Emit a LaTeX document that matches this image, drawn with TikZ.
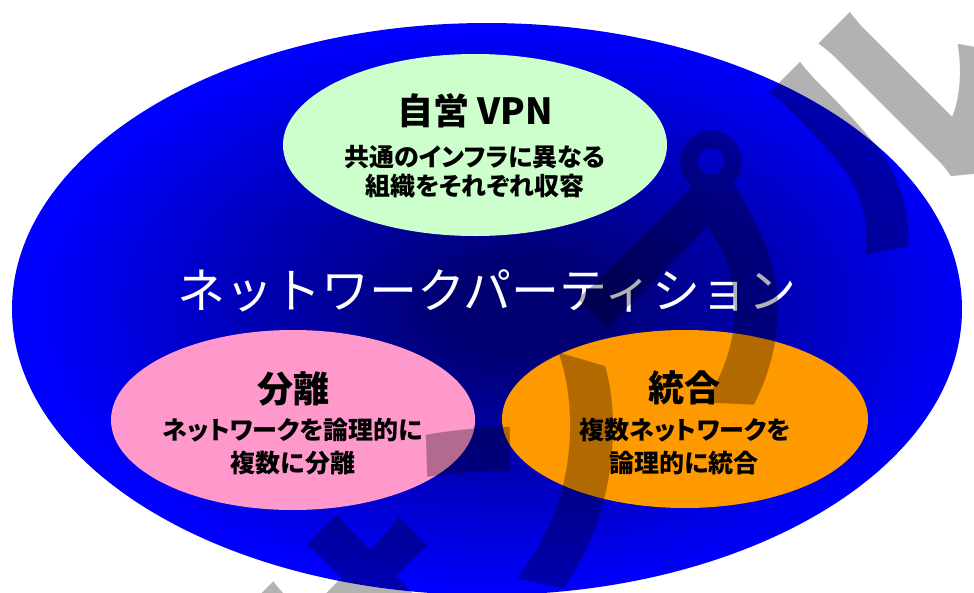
\documentclass[tikz,border=0pt]{standalone}
\usepackage{fontspec}
\newfontfamily\jp{Noto Sans CJK JP}
\newfontfamily\jpp{Noto Sans CJK JP}[RawFeature=+palt]
\usetikzlibrary{shapes.geometric}
\definecolor{navyc}{RGB}{0,0,115}
\definecolor{bluec}{RGB}{0,0,255}
\definecolor{greenc}{RGB}{204,255,204}
\definecolor{pinkc}{RGB}{255,153,204}
\definecolor{orangec}{RGB}{255,153,0}
\pgfdeclareradialshading{netshade}{\pgfpoint{2bp}{0bp}}{color(0bp)=(navyc); color(4bp)=(navyc); color(25bp)=(bluec); color(50bp)=(bluec)}
\begin{document}
\begin{tikzpicture}[x=1pt,y=-1pt,
  bubble/.style={ellipse, draw=none, inner sep=0pt},
  titletext/.style={font=\jp\bfseries\fontsize{36}{36}\selectfont, inner sep=0pt, text=black},
  subtext/.style={font=\jpp\bfseries\fontsize{25}{25}\selectfont, inner sep=0pt, text=black},
  maintext/.style={font=\jp\fontsize{48}{48}\selectfont, inner sep=0pt, text=white},
  wm/.style={font=\jp\bfseries\fontsize{250}{250}\selectfont, text=black, opacity=0.3, inner sep=0pt}]
\fill[white] (0,0) rectangle (974,592);
\useasboundingbox (0,0) rectangle (974,592);
\node[bubble, shade, shading=netshade, minimum width=950pt, minimum height=572pt] (net) at (487,309) {};
\node[bubble, fill=greenc, minimum width=384pt, minimum height=182pt] (vpn) at (475,145) {};
\node[bubble, fill=pinkc, minimum width=364pt, minimum height=180pt] (sep) at (293,420) {};
\node[bubble, fill=orangec, minimum width=366pt, minimum height=178pt] (int) at (685,419) {};
\node[titletext] (vpnT) at (475,111) {自営 VPN};
\node[subtext] (vpnA) at (475,157) {共通のインフラに異なる};
\node[subtext] (vpnB) at (475,186) {組織をそれぞれ収容};
\node[maintext] (title) at (487,291) {ネットワークパーティション};
\node[titletext] (sepT) at (293,389) {分離};
\node[subtext] (sepA) at (293,430) {ネットワークを論理的に};
\node[subtext] (sepB) at (293,463) {複数に分離};
\node[titletext] (intT) at (684,388) {統合};
\node[subtext] (intA) at (685,430) {複数ネットワークを};
\node[subtext] (intB) at (684,463) {論理的に統合};
\node[wm, rotate=45] (wmark) at (624,372) {サンプル};
\end{tikzpicture}
\end{document}
